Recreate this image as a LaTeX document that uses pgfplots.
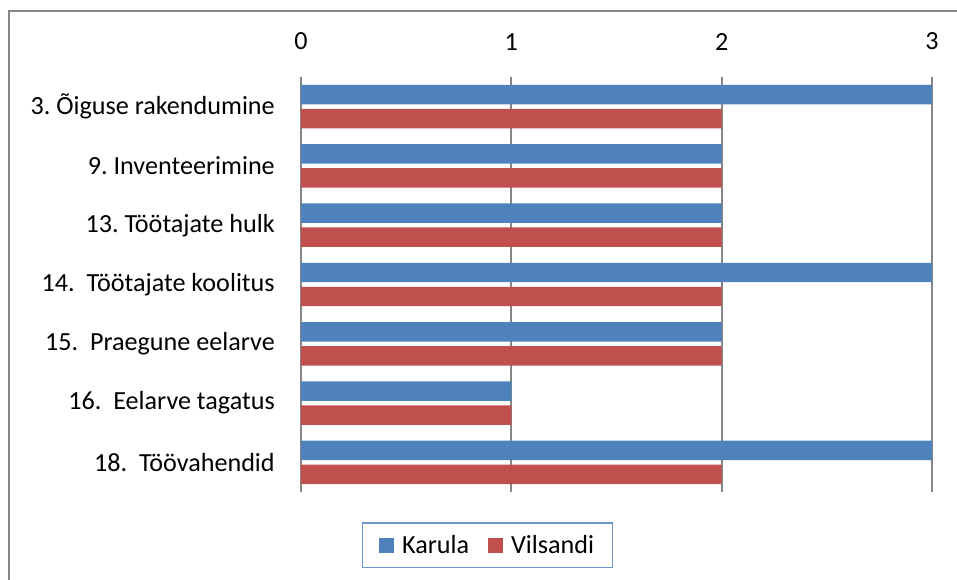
\documentclass[border=0pt]{standalone}
\usepackage{pgfplots}
\pgfplotsset{compat=1.18}
\usepackage{fontspec}
\setmainfont{Carlito}
\frenchspacing
\definecolor{cblue}{RGB}{79,129,189}
\definecolor{cred}{RGB}{192,80,77}
\definecolor{cgrid}{RGB}{134,134,134}
\definecolor{lborder}{RGB}{110,150,205}
\begin{document}
\begin{tikzpicture}
\path[use as bounding box] (0,0) rectangle (717.75pt,434.25pt);
\draw[cgrid, line width=1.5pt] (6.75pt,-2pt) -- (6.75pt,426pt) -- (720pt,426pt);
\begin{axis}[
  at={(225.75pt,65.25pt)}, anchor=south west,
  width=473.25pt, height=311.25pt, scale only axis,
  font=\fontsize{19.6}{23}\selectfont,
  /pgf/number format/assume math mode=true,
  xmin=0, xmax=3, xtick={0,1,2,3},
  ymin=-0.5, ymax=6.5, y dir=reverse,
  ytick={0,1,2,3,4,5,6},
  yticklabels={3. Õiguse rakendumine, 9. Inventeerimine, 13. Töötajate hulk, 14.\ \ Töötajate koolitus, 15.\ \ Praegune eelarve, 16.\ \ Eelarve tagatus, 18.\ \ Töövahendid},
  axis x line*=top, axis y line*=left,
  x axis line style={draw=none},
  y axis line style={draw=cgrid, line width=1.3pt, -},
  xmajorgrids, major grid style={draw=cgrid, line width=1.3pt},
  major tick length=0pt,
  xticklabel style={inner sep=0pt, anchor=south, yshift=20pt},
  yticklabel style={inner sep=0pt, anchor=east, xshift=-19.5pt},
  xbar, bar width=14.6pt,
  legend style={at={(0.296,-0.128)}, anchor=center, draw=lborder, line width=1pt,
    inner xsep=12pt, inner ysep=7pt,
    /tikz/every even column/.append style={column sep=12pt}},
  legend columns=2,
  legend image code/.code={\fill[#1] (0pt,-5.6pt) rectangle (11.25pt,5.6pt); \path (15.5pt,0pt);},
]
\addplot[fill=cblue, draw=none, bar shift=9pt] coordinates {(3,0) (2,1) (2,2) (3,3) (2,4) (1,5) (3,6)};
\addplot[fill=cred, draw=none, bar shift=-9pt] coordinates {(2,0) (2,1) (2,2) (2,3) (2,4) (1,5) (2,6)};
\legend{Karula, Vilsandi}
\end{axis}
\end{tikzpicture}
\end{document}
